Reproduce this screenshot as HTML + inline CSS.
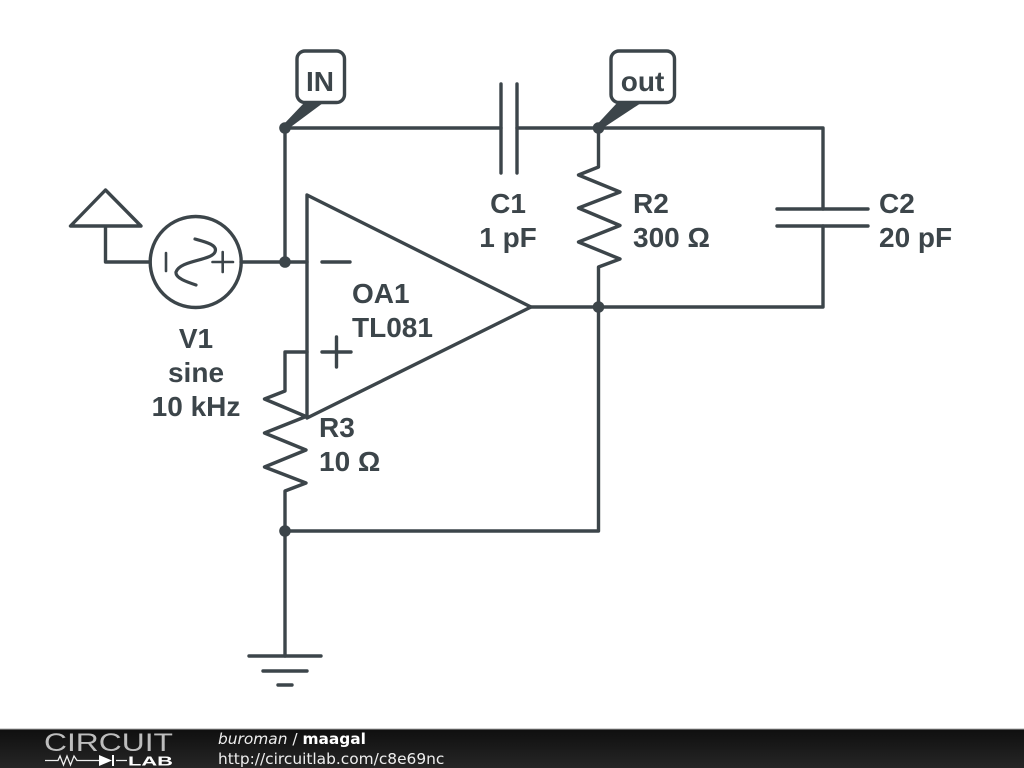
<!DOCTYPE html>
<html>
<head>
<meta charset="utf-8">
<style>
html,body{margin:0;padding:0;width:1024px;height:768px;background:#fff;overflow:hidden}
svg{display:block}
.l{font-family:"Liberation Sans",sans-serif;font-weight:700;font-size:28px;fill:#3c454a}
.f{font-family:"DejaVu Sans",sans-serif;font-size:15.4px;fill:#eee}
</style>
</head>
<body>
<svg width="1024" height="768" viewBox="0 0 1024 768" xmlns="http://www.w3.org/2000/svg">
<defs><linearGradient id="g" x1="0" y1="0" x2="0" y2="1"><stop offset="0" stop-color="#0f0f0f"/><stop offset="1" stop-color="#262626"/></linearGradient></defs>
<g fill="none" stroke="#3c454a" stroke-width="3.4" stroke-linejoin="round" stroke-linecap="round">
<!-- wires -->
<path d="M285 128H501M517 128H823V209M823 226V307H531"/>
<path d="M285 128V262M241 262H307"/>
<path d="M598.5 128V167L578.500 175L620 192L578.500 208L620 225.500L578.500 242L620 259L598.5 267V531H285"/>
<path d="M307 352H285V391L264.500 399L306 416.500L264.500 433L306 450L264.500 467L306 483L285 491V656"/>
<!-- caps -->
<path d="M501 84V173M517 84V173M777 209H868M777 226H868"/>
<!-- ground -->
<path d="M249 656H321M263 671H307M278 685H292"/>
<!-- source -->
<path d="M105.500 262V226M70.500 226H141L105.500 190ZM105.500 262H150"/>
<circle cx="195.700" cy="262" r="45.500"/>
<path d="M166 253V271M212.500 262H233M222.700 252V272" stroke-width="2.600"/>
<path d="M195 239C206 242 218 245 215 252C211 261 180 260 176 272C175 278 187 282 196 285" stroke-width="3.200"/>
<!-- opamp -->
<path d="M307 195L531 307L307 418Z"/>
<path d="M322 262H350M322 352H351M336.500 337V367"/>
<!-- flags -->
<rect x="297" y="51" width="47.500" height="51.500" rx="8" fill="#fff"/>
<rect x="611" y="51" width="63.500" height="51.500" rx="8" fill="#fff"/>
</g>
<g fill="#3c454a">
<path d="M283 125L304 103H323L288 129Z"/>
<path d="M596.500 125L617 103H641L601.500 129Z"/>
<circle cx="285" cy="128" r="5.800"/>
<circle cx="598.500" cy="128" r="5.800"/>
<circle cx="285" cy="262" r="5.800"/>
<circle cx="598.500" cy="307" r="5.800"/>
<circle cx="285" cy="531" r="5.800"/>
</g>
<text class="l" x="320" y="91" text-anchor="middle">IN</text>
<text class="l" x="642.500" y="91" text-anchor="middle">out</text>
<text class="l" x="508" y="213" text-anchor="middle">C1</text>
<text class="l" x="508" y="247" text-anchor="middle">1 pF</text>
<text class="l" x="633" y="213">R2</text>
<text class="l" x="633" y="247">300 Ω</text>
<text class="l" x="879" y="213">C2</text>
<text class="l" x="879" y="247">20 pF</text>
<text class="l" x="352" y="303">OA1</text>
<text class="l" x="352" y="337">TL081</text>
<text class="l" x="319" y="437">R3</text>
<text class="l" x="319" y="471">10 Ω</text>
<text class="l" x="196" y="348" text-anchor="middle">V1</text>
<text class="l" x="196" y="382" text-anchor="middle">sine</text>
<text class="l" x="196" y="416" text-anchor="middle">10 kHz</text>
<!-- footer -->
<rect x="0" y="728.500" width="1024" height="1" fill="#aaa"/>
<rect x="0" y="729.500" width="1024" height="38.500" fill="url(#g)"/>
<text x="44" y="751" font-family="'Liberation Sans',sans-serif" font-size="25" fill="#bdbdbd" textLength="129" lengthAdjust="spacingAndGlyphs">CIRCUIT</text>
<path d="M45 760.500H58L60 756L63.500 765L67 756L70.500 765L74 756L77 760.500H99M116 760.500H127" fill="none" stroke="#eee" stroke-width="1.300"/>
<path d="M99 755V766L112 760.500Z" fill="#fff"/>
<rect x="112" y="755" width="2" height="11" fill="#fff"/>
<text x="128" y="765.500" font-family="'Liberation Sans',sans-serif" font-weight="700" font-size="13" fill="#fff" textLength="45" lengthAdjust="spacingAndGlyphs">LAB</text>
<text class="f" x="218" y="744"><tspan font-style="italic">buroman</tspan> / <tspan font-weight="700" fill="#fff">maagal</tspan></text>
<text class="f" x="218" y="764">http://circuitlab.com/c8e69nc</text>
</svg>
</body>
</html>
